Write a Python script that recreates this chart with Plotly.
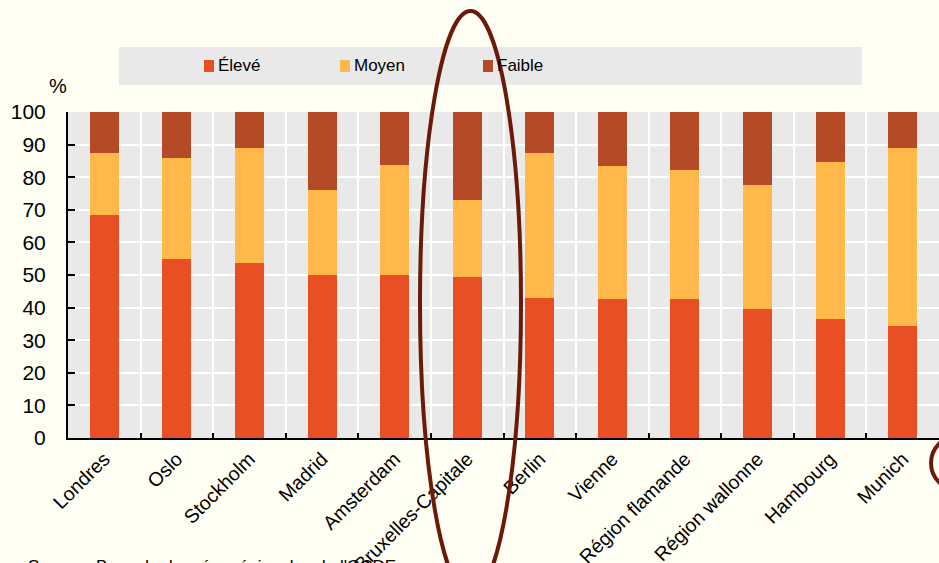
import plotly.graph_objects as go

villes = ["Londres", "Oslo", "Stockholm", "Madrid", "Amsterdam", "Bruxelles-Capitale",
          "Berlin", "Vienne", "Région flamande", "Région wallonne", "Hambourg", "Munich"]
eleve = [68.4, 55.0, 53.7, 50.1, 50.0, 49.4, 43.0, 42.6, 42.6, 39.6, 36.5, 34.4]
moyen = [19.1, 30.9, 35.3, 25.9, 33.7, 23.6, 44.4, 40.8, 39.6, 38.0, 48.2, 54.5]
faible = [12.5, 14.1, 11.0, 24.0, 16.3, 27.0, 12.6, 16.6, 17.8, 22.4, 15.3, 11.1]

series = ["Élevé", "Moyen", "Faible"]
couleurs = {"Élevé": "#E94F24", "Moyen": "#FEB94A", "Faible": "#B54A26"}
police = "Liberation Sans, Arial"

fig = go.Figure()
for nom, vals in zip(series, [eleve, moyen, faible]):
    fig.add_trace(go.Bar(x=villes, y=vals, name=nom, marker_color=couleurs[nom],
                         marker_line_width=0))

# plot area in px: x 68 -> 939, y 112 -> 438
def px_x(p):
    return (p - 68) / 871

def px_y(p):
    return (438 - p) / 326

# legende faite a la main (fond gris, carres, libelles)
leg_x = {"Élevé": 204, "Moyen": 340, "Faible": 483}
shapes = [dict(type="rect", xref="paper", yref="paper", layer="below",
               x0=px_x(119), x1=px_x(862), y0=px_y(85), y1=px_y(47),
               fillcolor="#E9E9E9", line_width=0)]
annots = []
for nom in series:
    x = leg_x[nom]
    shapes.append(dict(type="rect", xref="paper", yref="paper",
                       x0=px_x(x), x1=px_x(x + 10), y0=px_y(72), y1=px_y(60),
                       fillcolor=couleurs[nom], line_width=0))
    annots.append(dict(text=nom, xref="paper", yref="paper", x=px_x(x + 12), y=px_y(66),
                       xanchor="left", yanchor="middle", showarrow=False,
                       font=dict(size=17)))

shapes += [
    dict(type="circle", xref="paper", yref="paper",
         x0=px_x(420), x1=px_x(521), y0=px_y(595), y1=px_y(11),
         line=dict(color="#6B1A0A", width=4)),
    dict(type="circle", xref="paper", yref="paper",
         x0=px_x(931), x1=px_x(985), y0=px_y(490), y1=px_y(436),
         line=dict(color="#6B1A0A", width=4)),
]
annots += [
    dict(text="%", xref="paper", yref="paper", x=px_x(58), y=px_y(86),
         showarrow=False, font=dict(size=20), xanchor="center", yanchor="middle"),
    dict(text="Source : Base de données régionales de l'OCDE.", xref="paper", yref="paper",
         x=px_x(26), y=px_y(555), xanchor="left", yanchor="top",
         showarrow=False, font=dict(size=17)),
]

fig.update_layout(
    width=939, height=563,
    barmode="stack", bargap=0.6,
    paper_bgcolor="#FFFFF4", plot_bgcolor="#E9E9E9",
    margin=dict(l=68, r=0, t=112, b=125),
    font=dict(family=police, size=20, color="black"),
    showlegend=False,
    xaxis=dict(tickson="boundaries", showgrid=True, gridcolor="white", gridwidth=2,
               ticks="inside", ticklen=5, tickcolor="black", tickwidth=1.5,
               showline=True, linecolor="black", linewidth=2, automargin=False,
               tickangle=-45, tickfont=dict(size=19.5)),
    yaxis=dict(range=[0, 100], dtick=10, showgrid=True, gridcolor="white", gridwidth=2,
               ticks="inside", ticklen=7, tickcolor="black", tickwidth=1.5,
               showline=True, linecolor="black", linewidth=2, zeroline=False,
               automargin=False, ticklabelstandoff=16, tickfont=dict(size=21)),
    shapes=shapes,
    annotations=annots,
)

fig.write_html("out.html", config={"displayModeBar": False},
               post_script="document.body.style.margin='0';document.body.style.overflow='hidden';")
